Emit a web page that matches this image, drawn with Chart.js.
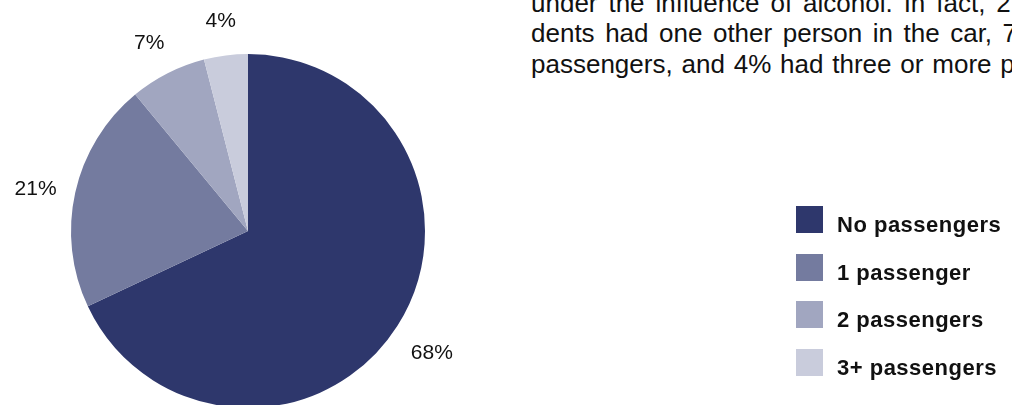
<!DOCTYPE html>
<html>
<head>
<meta charset="utf-8">
<script src="https://cdn.jsdelivr.net/npm/chart.js@4"></script>
<style>
  body { margin: 0; width: 1012px; height: 405px; overflow: hidden; background: #fff; position: relative;
         font-family: "Liberation Sans", Arial, Helvetica, sans-serif; }
  #wrap { position: absolute; left: 0; top: 0; width: 1012px; height: 420px; }
  .txt { position: absolute; left: 531px; top: -12.5px; font-size: 26px; line-height: 30.5px; color: #111; white-space: nowrap; }
  .leg-box { position: absolute; left: 796px; width: 27px; height: 27px; }
  .leg-txt { position: absolute; left: 837px; font-size: 22px; letter-spacing: 0.5px; font-weight: bold; line-height: 27px; color: #111; white-space: nowrap; }
</style>
</head>
<body>
<div class="txt">
  <div style="word-spacing: 3.7px;">under the influence of alcohol. In fact, 21% of</div>
  <div style="word-spacing: 3.3px;">dents had one other person in the car, 7% had</div>
  <div style="word-spacing: 1.6px;">passengers, and 4% had three or more passengers.</div>
</div>
<div id="wrap"><canvas id="pie" width="1012" height="420"></canvas></div>
<div id="legend"></div>
<script>
"use strict";
// donnees du camembert
const labels = ["No passengers", "1 passenger", "2 passengers", "3+ passengers"];
const values = [68, 21, 7, 4];
const pctLabels = ["68%", "21%", "7%", "4%"];
const colors = ["#2e376c", "#747b9f", "#a1a6c0", "#c9ccdc"];

// legende en html
const legend = document.querySelector("#legend");
labels.forEach((lab, i) => {
  const top = 206 + i * 47.7;
  legend.insertAdjacentHTML("beforeend",
    `<div class="leg-box" style="top:${top}px;background:${colors[i]}"></div>
     <div class="leg-txt" style="top:${top + 5}px">${lab}</div>`);
});

// etiquettes a l'exterieur des parts
const outsideLabels = {
  id: "outsideLabels",
  afterDatasetsDraw(chart) {
    const ctx = chart.ctx;
    const meta = chart.getDatasetMeta(0);
    ctx.save();
    ctx.font = "21px 'Liberation Sans', Arial, sans-serif";
    ctx.fillStyle = "#111";
    ctx.textAlign = "center";
    ctx.textBaseline = "middle";
    meta.data.forEach((arc, i) => {
      const p = arc.getProps(["x", "y", "startAngle", "endAngle", "outerRadius"], true);
      const a = (p.startAngle + p.endAngle) / 2;
      const d = p.outerRadius * 1.23;
      ctx.fillText(pctLabels[i], p.x + Math.cos(a) * d, p.y + Math.sin(a) * d + 6);
    });
    ctx.restore();
  }
};

const ctx = document.getElementById("pie").getContext("2d");
const myChart = new Chart(ctx, {
  type: "pie",
  data: {
    labels: labels,
    datasets: [{
      data: values,
      backgroundColor: colors,
      borderWidth: 0
    }]
  },
  options: {
    responsive: false,
    animation: false,
    layout: { padding: { top: 54, bottom: 12, left: 71, right: 587 } },
    plugins: {
      legend: { display: false },
      tooltip: { enabled: false }
    }
  },
  plugins: [outsideLabels]
});
</script>
</body>
</html>
